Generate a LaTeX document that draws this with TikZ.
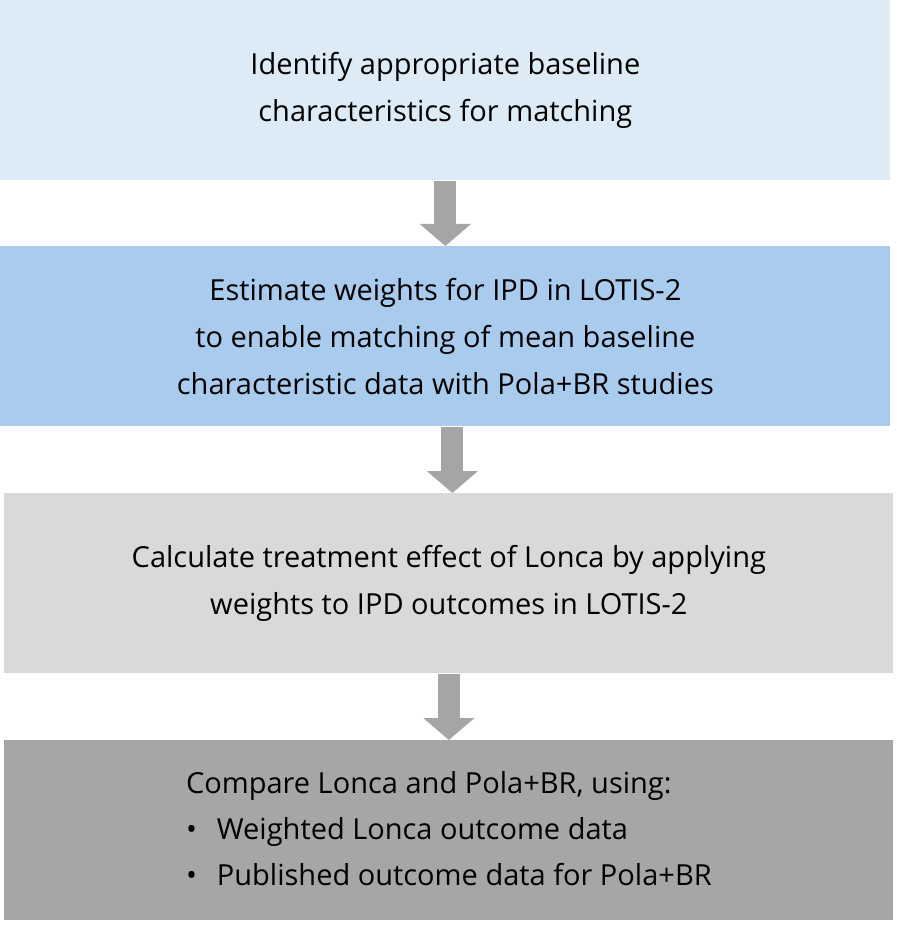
\documentclass[tikz,border=0pt]{standalone}
\usepackage{fontspec}
\setmainfont{Open Sans}
\usetikzlibrary{arrows.meta}
\definecolor{boxA}{HTML}{DDEBF7}
\definecolor{boxB}{HTML}{A9CCEE}
\definecolor{boxC}{HTML}{D9D9D9}
\definecolor{boxD}{HTML}{A6A6A6}
\definecolor{arrowgray}{HTML}{A5A5A5}
\tikzset{every picture/.style={line width=0.75pt}}
\begin{document}
\begin{tikzpicture}[x=1pt,y=1pt,yscale=-1,xscale=1,
  stage/.style={minimum width=890pt,minimum height=180pt,inner sep=0pt,align=center,
    font=\fontsize{29}{47}\selectfont,anchor=north west},
  flow/.style={draw=arrowgray,line width=22pt,-{Triangle[width=50pt,length=22pt]}}]
\useasboundingbox (0,0) rectangle (896,925);

% Boxes
\node [stage,fill=boxA] (ident) at (0,0) {Identify appropriate baseline\\characteristics for matching};
\node [stage,fill=boxB] (weights) at (0,246) {Estimate weights for IPD in LOTIS-2\\to enable matching of mean baseline\\characteristic data with Pola+BR studies};
\node [stage,fill=boxC,minimum width=889pt] (effect) at (4,493) {Calculate treatment effect of Lonca by applying\\weights to IPD outcomes in LOTIS-2};
\node [stage,fill=boxD,minimum width=889pt] (compare) at (4,740) {%
  \begin{tabular}{@{}l@{\hspace{20pt}}l@{}}
  \multicolumn{2}{@{}l@{}}{Compare Lonca and Pola+BR, using:}\\[-1pt]
  \textbullet & Weighted Lonca outcome data\\[-1pt]
  \textbullet & Published outcome data for Pola+BR
  \end{tabular}};

% Arrows
\draw [flow] (ident.south) -- (weights.north);
\draw [flow] (weights.south) ++(7,0) coordinate (w7) -- (w7 |- effect.north);
\draw [flow] (effect.south) -- (compare.north);
\end{tikzpicture}
\end{document}
